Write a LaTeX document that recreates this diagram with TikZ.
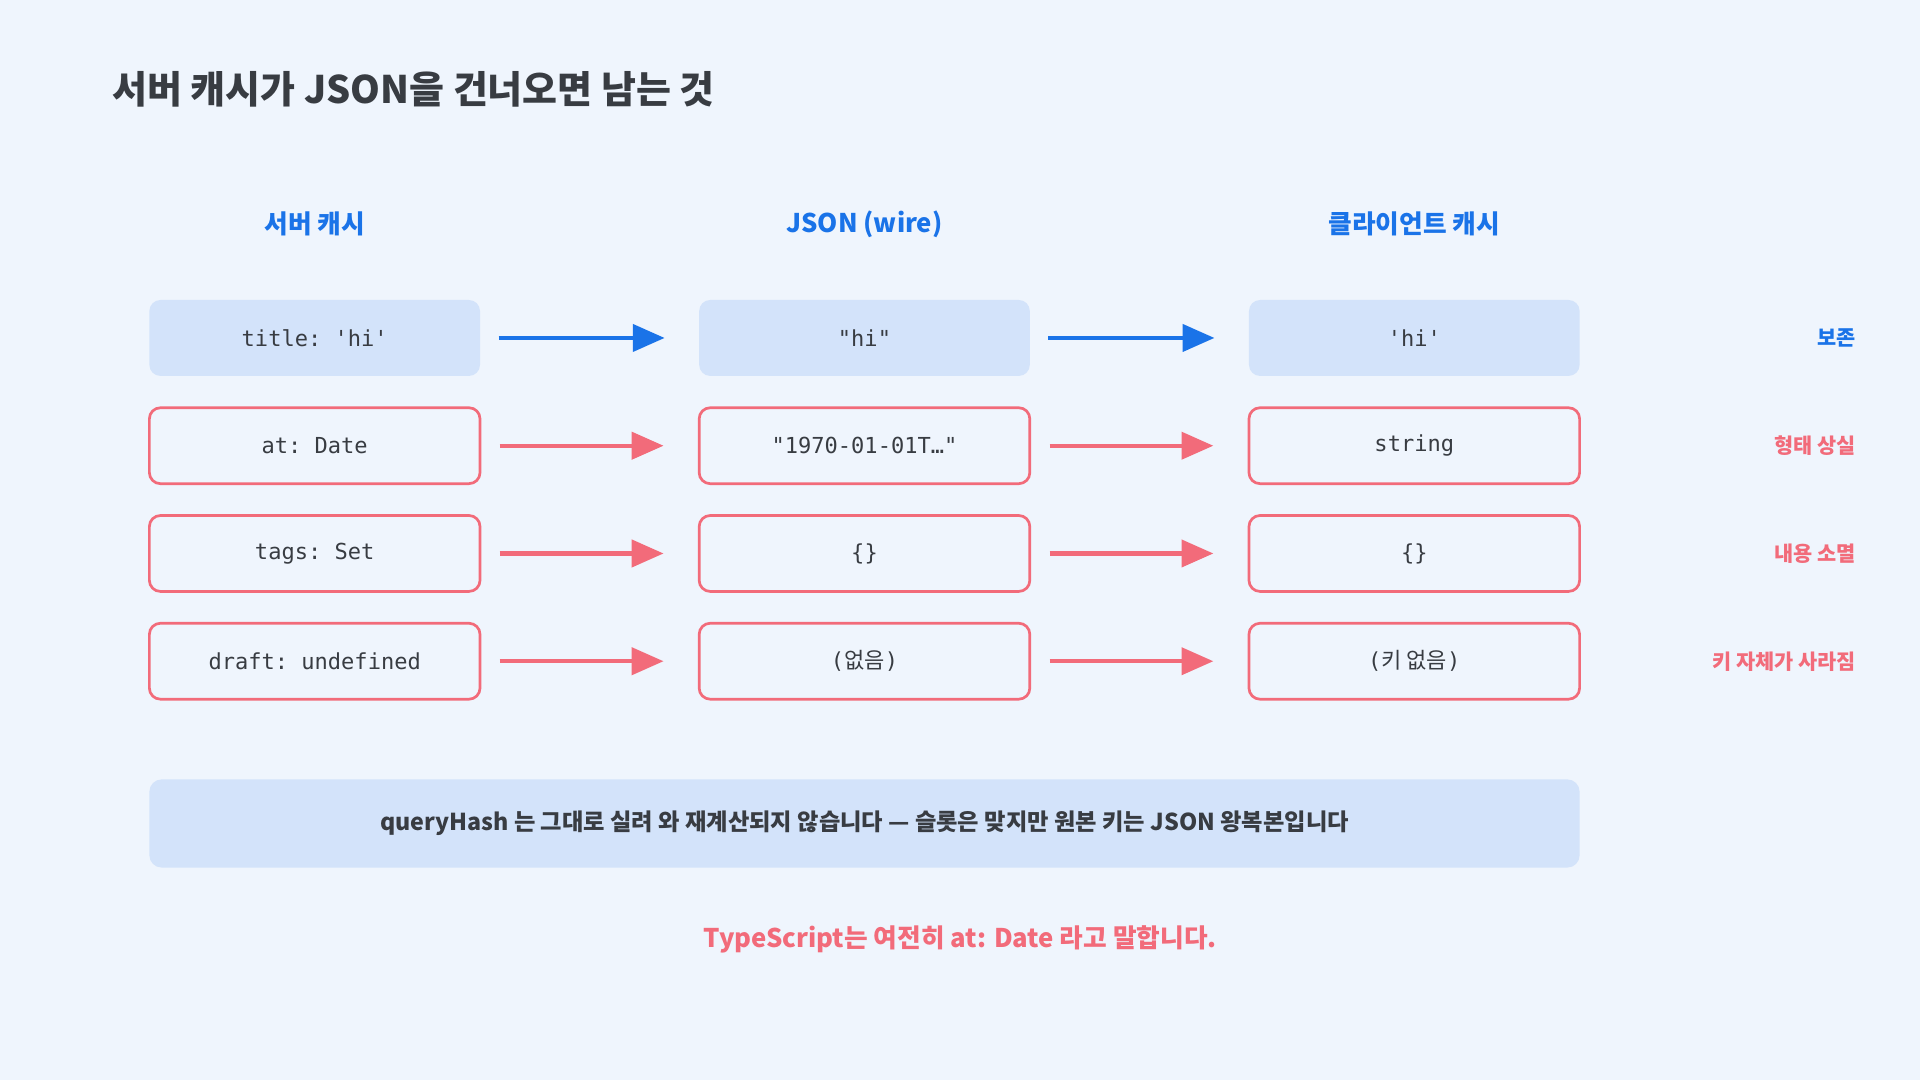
\documentclass[tikz,border=0pt]{standalone}
\usepackage{fontspec}
\setmainfont{Noto Sans CJK KR}
\setmonofont{DejaVu Sans Mono}
\usetikzlibrary{arrows.meta}
\definecolor{bg}{HTML}{EFF5FD}
\definecolor{blu}{HTML}{1A73E8}
\definecolor{pnk}{HTML}{F26B7A}
\definecolor{lb}{HTML}{D3E3FA}
\definecolor{dk}{HTML}{383C42}
\begin{document}
\begin{tikzpicture}[x=1pt,y=-1pt,
 hdr/.style={font=\fontsize{21}{24}\selectfont\bfseries,text=blu},
 cell/.style={minimum width=270pt,minimum height=62pt,rounded corners=9pt,font=\ttfamily\fontsize{18}{20}\selectfont,text=dk},
 ok/.style={cell,fill=lb},
 bad/.style={cell,draw=pnk,line width=2.2pt,fill=bg},
 aok/.style={draw=blu,line width=3.5pt,-{Triangle[length=26pt,width=22pt]}},
 abad/.style={draw=pnk,line width=3.5pt,-{Triangle[length=26pt,width=22pt]}},
 rl/.style={anchor=east,font=\fontsize{17}{20}\selectfont\bfseries}]
\fill[bg] (0,0) rectangle (1568,882);
\useasboundingbox (0,0) rectangle (1568,882);
\node[anchor=west,text=dk,font=\fontsize{31}{36}\selectfont\bfseries] (t) at (88,73) {서버 캐시가 JSON을 건너오면 남는 것};
\node[hdr] (h1) at (257,183) {서버 캐시};
\node[hdr] (h2) at (706,183) {JSON (wire)};
\node[hdr] (h3) at (1155,183) {클라이언트 캐시};
\node[ok] (a1) at (257,276) {title: 'hi'};
\node[ok] (a2) at (706,276) {"hi"};
\node[ok] (a3) at (1155,276) {'hi'};
\node[bad] (b1) at (257,364) {at: Date};
\node[bad] (b2) at (706,364) {"1970-01-01T…"};
\node[bad] (b3) at (1155,364) {string};
\node[bad] (c1) at (257,452) {tags: Set};
\node[bad] (c2) at (706,452) {\{\}};
\node[bad] (c3) at (1155,452) {\{\}};
\node[bad] (d1) at (257,540) {draft: undefined};
\node[bad] (d2) at (706,540) {(\rmfamily 없음\ttfamily)};
\node[bad] (d3) at (1155,540) {(\rmfamily 키 없음\ttfamily)};
\draw[aok] (a1.east)++(15,0) -- ([xshift=-28pt]a2.west);
\draw[aok] (a2.east)++(15,0) -- ([xshift=-28pt]a3.west);
\foreach \r in {b,c,d}{
 \draw[abad] (\r1.east)++(15,0) -- ([xshift=-28pt]\r2.west);
 \draw[abad] (\r2.east)++(15,0) -- ([xshift=-28pt]\r3.west);}
\node[rl,text=blu] (r1) at (1519,276) {보존};
\node[rl,text=pnk] (r2) at (1519,364) {형태 상실};
\node[rl,text=pnk] (r3) at (1519,452) {내용 소멸};
\node[rl,text=pnk] (r4) at (1519,540) {키 자체가 사라짐};
\node[fill=lb,rounded corners=10pt,minimum width=1168pt,minimum height=72pt,text=dk,font=\fontsize{19}{22}\selectfont\bfseries] (n) at (706,672.5) {queryHash 는 그대로 실려 와 재계산되지 않습니다 — 슬롯은 맞지만 원본 키는 JSON 왕복본입니다};
\node[text=pnk,font=\fontsize{21}{24}\selectfont\bfseries] (f) at (784,767) {TypeScript는 여전히 at: Date 라고 말합니다.};
\end{tikzpicture}
\end{document}
